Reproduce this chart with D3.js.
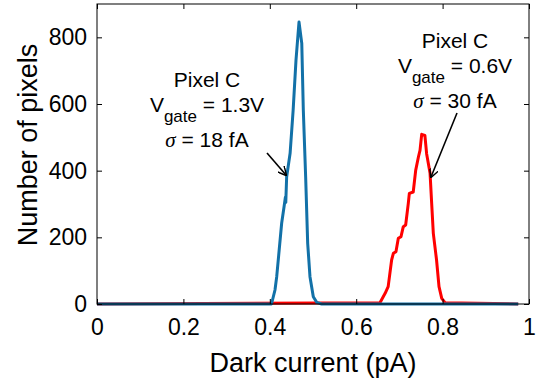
<!DOCTYPE html>
<html>
<head>
<meta charset="utf-8">
<script src="https://cdn.jsdelivr.net/npm/d3@7"></script>
<style>
  html, body { margin: 0; padding: 0; background: #fff; }
  svg { display: block; font-family: "Liberation Sans", Arial, sans-serif; }
</style>
</head>
<body>
<div id="chart"></div>
<script>
// Histogram traces
const blueX = [0, 0.404, 0.412, 0.416, 0.4275, 0.433, 0.436, 0.437, 0.439, 0.447, 0.454, 0.4606, 0.4676, 0.474, 0.4776, 0.483, 0.4877, 0.493, 0.5007, 0.5085, 0.52, 0.975];
const blueY = [0, 0, 42, 82, 243, 292, 320, 305, 381, 452, 581, 731, 846, 782, 581, 381, 182, 82, 22, 5, 0, 0];
const redX = [0, 0.655, 0.667, 0.674, 0.682, 0.686, 0.692, 0.6975, 0.7037, 0.709, 0.7145, 0.7206, 0.723, 0.732, 0.7377, 0.744, 0.7477, 0.7516, 0.759, 0.763, 0.771, 0.7747, 0.7785, 0.786, 0.7917, 0.798, 0.8056, 0.975];
const redY = [0, 4, 32, 52, 132, 152, 157, 197, 202, 232, 237, 302, 332, 336, 401, 441, 461, 509, 506, 451, 392, 302, 212, 132, 52, 17, 4, 0];
const xTicks = [0, 0.2, 0.4, 0.6, 0.8, 1];
const yTicks = [0, 200, 400, 600, 800];

const width = 537;
const height = 381;
const margin = { top: 4, right: 8, bottom: 77, left: 97 };
const iw = width - margin.left - margin.right;
const ih = height - margin.top - margin.bottom;

const svg = d3.select('#chart').append('svg')
  .attr('width', width)
  .attr('height', height);

const g = svg.append('g')
  .attr('transform', `translate(${margin.left},${margin.top})`);

const x = d3.scaleLinear().domain([0, 1]).range([0, iw]);
const y = d3.scaleLinear().domain([0, 900]).range([ih, 0]);

// Lines
const line = d3.line().x((d) => x(d[0])).y((d) => y(d[1]));
const redData = redX.map((v, i) => [v, redY[i]]);
const blueData = blueX.map((v, i) => [v, blueY[i]]);

g.append('path')
  .datum(redData)
  .attr('d', line)
  .attr('fill', 'none')
  .attr('stroke', '#ff0000')
  .attr('stroke-width', 3)
  .attr('stroke-linejoin', 'round');

g.append('path')
  .datum(blueData)
  .attr('d', line)
  .attr('fill', 'none')
  .attr('stroke', '#1271a8')
  .attr('stroke-width', 3)
  .attr('stroke-linejoin', 'round');

// Axes (inward ticks, mirrored)
const xAxis = g.append('g')
  .attr('transform', `translate(0,${ih})`)
  .call(d3.axisBottom(x).tickValues(xTicks).tickSize(-5).tickPadding(15).tickFormat(d3.format('~g')));
const yAxis = g.append('g')
  .call(d3.axisLeft(y).tickValues(yTicks).tickSize(-5).tickPadding(10));
g.append('g')
  .call(d3.axisTop(x).tickValues(xTicks).tickSize(-5).tickFormat(''));
g.append('g')
  .attr('transform', `translate(${iw},0)`)
  .call(d3.axisRight(y).tickValues(yTicks).tickSize(-5).tickFormat(''));

g.selectAll('.domain').remove();
g.selectAll('.tick line').attr('stroke', '#000');
[xAxis, yAxis].forEach((a) => a.selectAll('text')
  .attr('fill', '#000')
  .style('font-size', '23px')
  .style('font-family', '"Liberation Sans", Arial, sans-serif'));

g.append('rect')
  .attr('x', 0)
  .attr('y', 0)
  .attr('width', iw)
  .attr('height', ih)
  .attr('fill', 'none')
  .attr('stroke', '#000')
  .attr('stroke-width', 1);

// Axis labels
svg.append('text')
  .attr('x', margin.left + iw / 2)
  .attr('y', 372)
  .attr('text-anchor', 'middle')
  .style('font-size', '27px')
  .text('Dark current (pA)');

svg.append('text')
  .attr('transform', `translate(37,145) rotate(-90)`)
  .attr('text-anchor', 'middle')
  .style('font-size', '27px')
  .text('Number of pixels');

// Annotations
function annotate(cx, top, volt, sigma) {
  const t = svg.append('g').style('font-size', '21px');
  t.append('text').attr('x', cx).attr('y', top).attr('text-anchor', 'middle').text('Pixel C');
  const v = t.append('text').attr('x', cx).attr('y', top + 25).attr('text-anchor', 'middle');
  v.append('tspan').text('V');
  v.append('tspan').attr('dy', 10).style('font-size', '17px').text('gate');
  v.append('tspan').attr('dy', -10).text(` = ${volt}`);
  const s = t.append('text').attr('x', cx).attr('y', top + 60).attr('text-anchor', 'middle');
  s.append('tspan').style('font-family', '"Liberation Serif", serif').style('font-style', 'italic').text('σ');
  s.append('tspan').text(` = ${sigma}`);
}

annotate(207, 87, '1.3V', '18 fA');
annotate(455, 48, '0.6V', '30 fA');

svg.append('defs').append('marker')
  .attr('id', 'ah')
  .attr('viewBox', '0 0 10 10')
  .attr('refX', 9)
  .attr('refY', 5)
  .attr('markerWidth', 9)
  .attr('markerHeight', 9)
  .attr('markerUnits', 'userSpaceOnUse')
  .attr('orient', 'auto')
  .append('path')
  .attr('d', 'M0,0 L10,5 L0,10')
  .attr('fill', 'none')
  .attr('stroke', '#000')
  .attr('stroke-width', 1.6);

svg.append('line')
  .attr('x1', 267).attr('y1', 153).attr('x2', 286).attr('y2', 175)
  .attr('stroke', '#000').attr('stroke-width', 1.6)
  .attr('marker-end', 'url(#ah)');

svg.append('line')
  .attr('x1', 457).attr('y1', 113).attr('x2', 431).attr('y2', 177)
  .attr('stroke', '#000').attr('stroke-width', 1.6)
  .attr('marker-end', 'url(#ah)');
</script>
</body>
</html>
